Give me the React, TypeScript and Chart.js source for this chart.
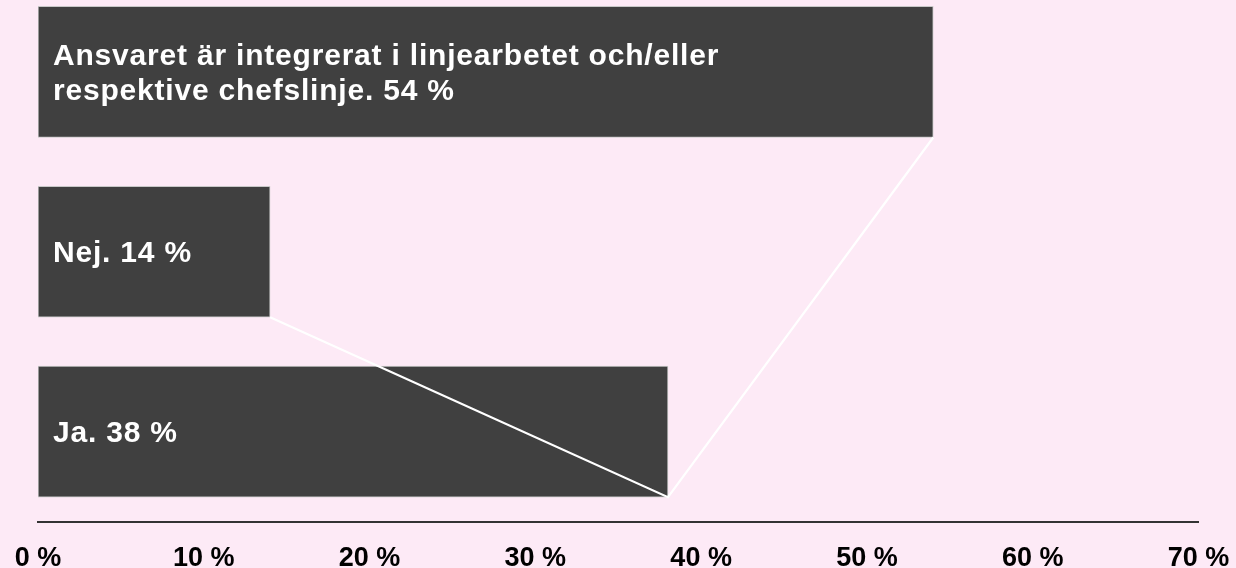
import React, { useEffect, useRef } from 'react';
import { Chart, registerables } from 'chart.js';

Chart.register(...registerables);

// ---- data ----
const CATEGORIES = [
  'Ansvaret är integrerat i linjearbetet och/eller respektive chefslinje.',
  'Nej.',
  'Ja.',
];
const VALUES = [54, 14, 38];
const LABEL_LINES = [
  ['Ansvaret är integrerat i linjearbetet och/eller', 'respektive chefslinje. 54 %'],
  ['Nej. 14 %'],
  ['Ja. 38 %'],
];
// order in which the white connector line joins the bar ends (category indices)
const LINE_SEQUENCE = [1, 2, 0];
const X_TICKS = [0, 10, 20, 30, 40, 50, 60, 70];
const X_TICK_LABELS = ['0 %', '10 %', '20 %', '30 %', '40 %', '50 %', '60 %', '70 %'];

// ---- styling constants ----
const BG = '#fdeaf6';
const BAR_COLOR = '#404040';
const BAR_THICKNESS = 131;
const BAR_EDGE_OFFSET = 0.3645; // bottom edge of a bar, in category units
const FONT = "'Liberation Sans', Arial, Helvetica, sans-serif";

export default function App() {
  const ref = useRef<HTMLCanvasElement>(null);

  useEffect(() => {
    if (!ref.current) return;

    const labelPlugin = {
      id: 'barLabels',
      afterDatasetsDraw(chart: any) {
        const meta = chart.getDatasetMeta(1);
        const ctx = chart.ctx;
        ctx.save();
        ctx.fillStyle = '#ffffff';
        ctx.font = `bold 30px ${FONT}`;
        try { (ctx as any).letterSpacing = '0.8px'; } catch (e) {}
        ctx.textAlign = 'left';
        ctx.textBaseline = 'alphabetic';
        const lineGap = 35;
        const capHalf = 10.5;
        meta.data.forEach((el: any, i: number) => {
          const lines = LABEL_LINES[i];
          const left = Math.min(el.base, el.x);
          const n = lines.length;
          lines.forEach((t, j) => {
            const y = el.y + capHalf + (j - (n - 1) / 2) * lineGap;
            ctx.fillText(t, left + 15, y);
          });
        });
        ctx.restore();
      },
    };

    const lineData = LINE_SEQUENCE.map((idx) => ({ x: VALUES[idx], y: idx + BAR_EDGE_OFFSET }));
    const barData = VALUES.map((v, i) => ({ x: v, y: i }));

    const chart = new Chart(ref.current, {
      type: 'bar',
      data: {
        labels: CATEGORIES,
        datasets: [
          {
            type: 'line',
            label: 'connector',
            data: lineData as any,
            borderColor: '#ffffff',
            borderWidth: 2.2,
            pointRadius: 0,
            tension: 0,
            fill: false,
            order: 0,
          } as any,
          {
            type: 'bar',
            label: 'Andel',
            data: barData as any,
            backgroundColor: BAR_COLOR,
            borderColor: '#c8c8c8',
            borderWidth: 1,
            borderSkipped: false,
            barThickness: BAR_THICKNESS,
            order: 1,
          } as any,
        ],
      },
      options: {
        indexAxis: 'y',
        responsive: false,
        animation: false,
        layout: { padding: { left: 38, right: 37.5, top: 0, bottom: 0 } },
        plugins: {
          legend: { display: false },
          tooltip: { enabled: false },
        },
        scales: {
          x: {
            type: 'linear',
            position: 'bottom',
            min: 0,
            max: 70,
            offset: false,
            grid: { display: false, drawTicks: true, tickLength: 18 },
            border: { display: true, color: '#333333', width: 2 },
            afterFit: (scale: any) => {
              scale.height = 46.5;
            },
            ticks: {
              stepSize: 10,
              autoSkip: false,
              maxRotation: 0,
              padding: 3,
              color: '#000000',
              font: { family: FONT, size: 27, weight: 'bold' },
              callback: (v: any) => {
                const k = X_TICKS.indexOf(Number(v));
                return k >= 0 ? X_TICK_LABELS[k] : '';
              },
            },
          },
          y: {
            type: 'linear',
            reverse: true,
            offset: false,
            min: -0.4,
            max: 2.5,
            display: false,
            grid: { display: false },
          },
        },
      } as any,
      plugins: [labelPlugin],
    });

    return () => chart.destroy();
  }, []);

  return (
    <div
      style={{
        position: 'absolute',
        left: 0,
        top: 0,
        width: 1236,
        height: 568,
        background: BG,
        overflow: 'hidden',
      }}
    >
      <canvas ref={ref} width={1236} height={568} style={{ display: 'block' }} />
    </div>
  );
}
